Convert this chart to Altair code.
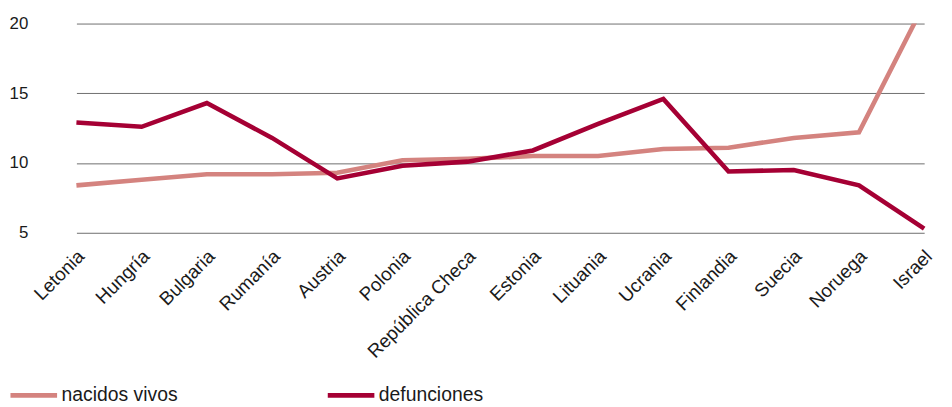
import altair as alt
import pandas as pd

paises = ["Letonia", "Hungría", "Bulgaria", "Rumanía", "Austria", "Polonia",
          "República Checa", "Estonia", "Lituania", "Ucrania", "Finlandia",
          "Suecia", "Noruega", "Israel"]
nacidos_vivos = [8.4, 8.8, 9.2, 9.2, 9.3, 10.2, 10.3, 10.5, 10.5, 11.0, 11.1, 11.8, 12.2, 21.4]
defunciones = [12.9, 12.6, 14.3, 11.8, 8.9, 9.8, 10.1, 10.9, 12.8, 14.6, 9.4, 9.5, 8.4, 5.3]
series = ["nacidos vivos", "defunciones"]
colores = ["#d4837f", "#a50034"]
y_ticks = [5, 10, 15, 20]

rows = []
for i, p in enumerate(paises):
    rows.append({"pais": p, "serie": series[0], "valor": nacidos_vivos[i], "orden": i})
    rows.append({"pais": p, "serie": series[1], "valor": defunciones[i], "orden": i})
df = pd.DataFrame(rows)

FONT = "Liberation Sans"

chart = alt.Chart(df).mark_line(strokeWidth=4.6, clip=True, strokeJoin="miter").encode(
    x=alt.X("pais:N", sort=paises,
            scale=alt.Scale(type="point", range=[33, 888], padding=0),
            axis=alt.Axis(title=None, labelAngle=-45, ticks=False, domain=False,
                          grid=False, labelPadding=14, labelFontSize=19,
                          labelOffset=-2,
                          labelColor="#1a1a1a", labelFont=FONT)),
    y=alt.Y("valor:Q", scale=alt.Scale(domain=[5, 20], nice=False, zero=False),
            axis=alt.Axis(title=None, values=y_ticks, ticks=False, domain=False,
                          grid=True, gridColor="#6e6e6e", gridWidth=1,
                          labelPadding=16, labelFontSize=17, labelColor="#1a1a1a",
                          labelFont=FONT)),
    color=alt.Color("serie:N", sort=series,
                    scale=alt.Scale(domain=series, range=colores),
                    legend=alt.Legend(title=None, orient="none", direction="horizontal",
                                      legendX=-36, legendY=349,
                                      symbolType="stroke", symbolSize=2209,
                                      symbolStrokeWidth=5, labelFontSize=19.5,
                                      labelFont=FONT, labelColor="#1a1a1a",
                                      labelOffset=2, columnPadding=140)),
    detail="serie:N",
).properties(
    width=908, height=211,
    autosize=alt.AutoSizeParams(type="none"),
    padding={"left": 36, "top": 14, "right": 0, "bottom": 172},
).configure_view(stroke=None)

chart.save("out.html", embed_options={"renderer": "svg", "actions": False})
